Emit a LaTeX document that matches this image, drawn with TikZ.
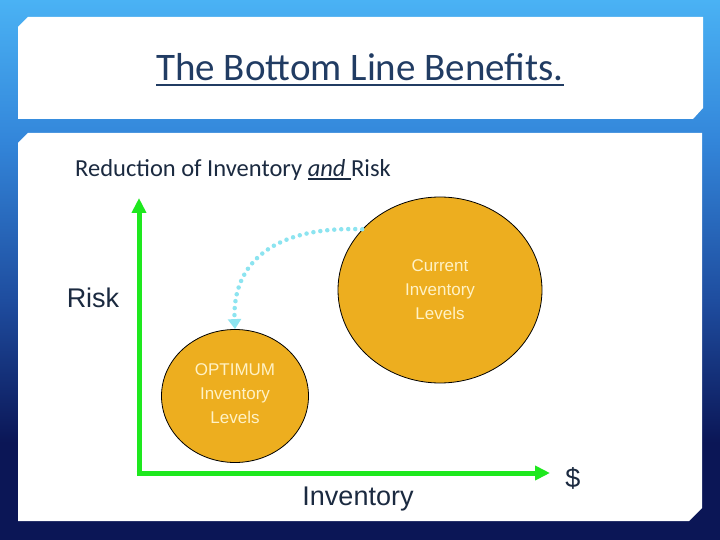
\documentclass[tikz,border=0pt]{standalone}
\usepackage{fontspec}
\setmainfont{Carlito}
\newfontfamily\arl{Liberation Sans}
\usetikzlibrary{arrows.meta,shapes.geometric}
\definecolor{navy}{HTML}{0B1656}
\definecolor{midblue}{HTML}{1E4C9E}
\definecolor{skyblue}{HTML}{3386DA}
\definecolor{topblue}{HTML}{4AB2F4}
\definecolor{ttlblue}{HTML}{213C63}
\definecolor{ink}{HTML}{1B2A40}
\definecolor{gold}{HTML}{EDAE1F}
\definecolor{pale}{HTML}{FFF2C6}
\definecolor{axgreen}{HTML}{1EE81E}
\definecolor{dotcyan}{HTML}{8CE4F0}
\pgfdeclareverticalshading{frame}{100bp}{color(0bp)=(navy); color(34bp)=(navy); color(47bp)=(midblue); color(62bp)=(skyblue); color(75bp)=(topblue); color(100bp)=(topblue)}
\newcommand{\ulpart}[1]{\setbox0\hbox{#1}\rlap{\color{ink}\rule[-2.8pt]{\wd0}{1.3pt}}\box0}
\tikzset{
  level/.style={ellipse,draw=black,line width=0.8pt,fill=gold,inner sep=0pt,
    text=pale,align=center,font=\arl\fontsize{17}{24}\selectfont},
  axis/.style={draw=axgreen,line width=5pt,-{Triangle[width=14pt,length=15pt]}},
  lbl/.style={inner sep=0pt,anchor=base,text=ink,font=\arl\fontsize{27}{30}\selectfont}
}
\begin{document}
\begin{tikzpicture}[x=1pt,y=-1pt]
  \useasboundingbox (0,0) rectangle (720,540);
  \shade[shading=frame] (0,0) rectangle (720,540);
  \fill[white] (28,17) -- (703,17) -- (703,108) -- (693,119) -- (18,119) -- (18,27) -- cycle;
  \fill[white] (28,133) -- (702,133) -- (702,508) -- (689,521) -- (18,521) -- (18,143) -- cycle;
  \node[inner sep=0pt,anchor=base,text=ttlblue,font=\fontsize{39}{44}\selectfont] (ttl) at (360,81) {The Bottom Line Benefits.};
  \draw[ttlblue,line width=2pt] ([yshift=-4pt]ttl.base west) -- ([yshift=-4pt]ttl.base east);
  \node[inner sep=0pt,anchor=base west,text=ink,font=\fontsize{24.5}{28}\selectfont] (sub) at (75,177) {Reduction of Inventory \ulpart{\textit{and\ }} Risk};
  \coordinate (o) at (139,473);
  \coordinate (ytop) at (139,198);
  \coordinate (xend) at (550,473);
  \draw[axis] ([yshift=2.5pt]o) -- (ytop);
  \draw[axis] ([xshift=-2.5pt]o) -- (xend);
  \node[lbl] (risk) at (93,307) {Risk};
  \node[lbl] (inv) at (358,505) {Inventory};
  \node[lbl] (dol) at (573,487) {\$};
  \node[level,minimum width=204pt,minimum height=186pt] (cur) at (440,290) {Current\\Inventory\\Levels};
  \node[level,minimum width=147pt,minimum height=133pt,text depth=4pt] (opt) at (235,396) {OPTIMUM\\Inventory\\Levels};
  \draw[dotcyan,line width=4.5pt,line cap=round,dash pattern=on 0pt off 7pt,
    -{Triangle[width=13pt,length=10pt,line cap=butt]}]
    (cur.142) .. controls (275,226) and (232,262) .. (opt.north);
\end{tikzpicture}
\end{document}
